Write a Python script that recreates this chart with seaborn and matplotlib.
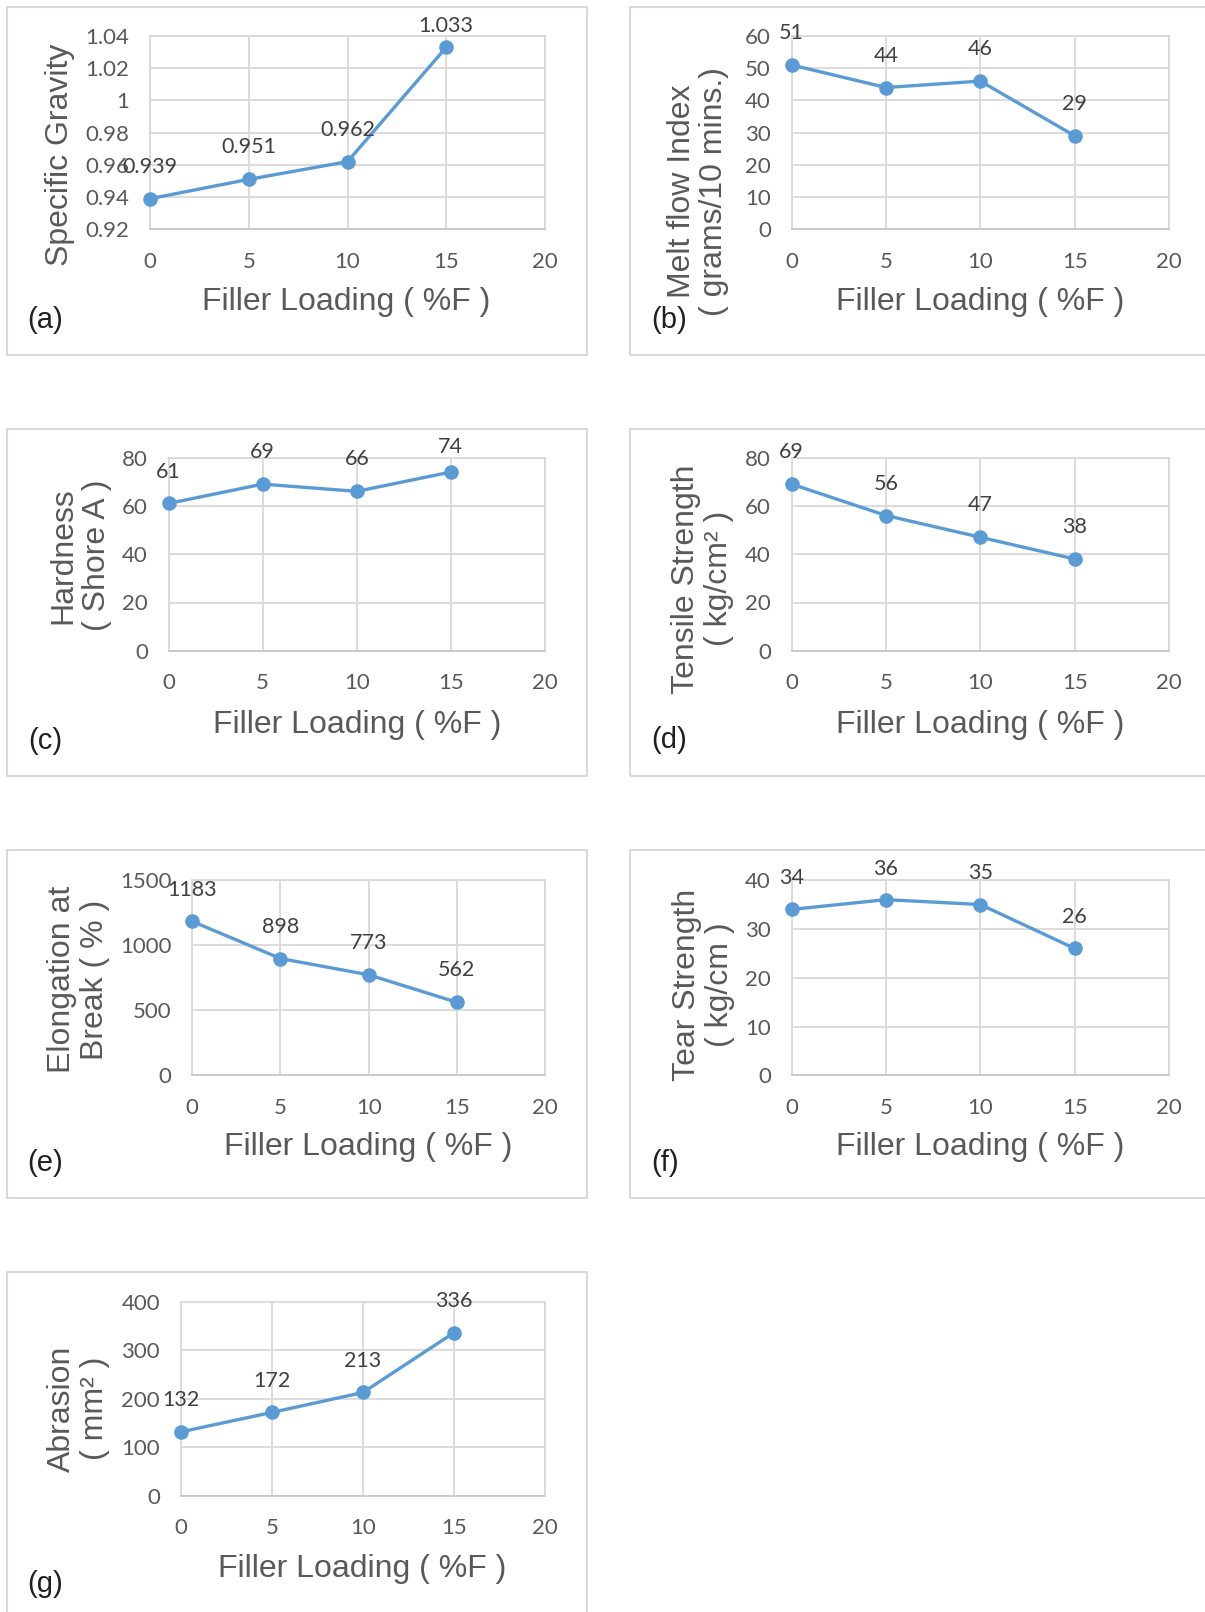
import seaborn as sns
import matplotlib.pyplot as plt
from matplotlib.patches import Rectangle
from matplotlib.ticker import FuncFormatter

# data
filler = [0, 5, 10, 15]
x_ticks = [0, 5, 10, 15, 20]

specific_gravity = [0.939, 0.951, 0.962, 1.033]
melt_flow = [51, 44, 46, 29]
hardness = [61, 69, 66, 74]
tensile = [69, 56, 47, 38]
elongation = [1183, 898, 773, 562]
tear = [34, 36, 35, 26]
abrasion = [132, 172, 213, 336]

sg_ticks = [0.92, 0.94, 0.96, 0.98, 1.0, 1.02, 1.04]
mfi_ticks = [0, 10, 20, 30, 40, 50, 60]
hard_ticks = [0, 20, 40, 60, 80]
tensile_ticks = [0, 20, 40, 60, 80]
elong_ticks = [0, 500, 1000, 1500]
tear_ticks = [0, 10, 20, 30, 40]
abr_ticks = [0, 100, 200, 300, 400]

xlabel = 'Filler Loading ( %F )'

sns.set_style('white')
plt.rcParams['font.family'] = ['Liberation Sans', 'DejaVu Sans']

W, H = 1205, 1612
K = W / 1172  # positions below were measured on the shrunk reference

fig = plt.figure(figsize=(W / 100, H / 100), dpi=100)


def fx(x):
    return x * K / W


def fy(y):
    return 1 - y * K / H


BLUE = '#5B9BD5'
GRID = '#d9d9d9'
TICK = '#595959'
NUMFONT = ['Lato', 'DejaVu Sans']

# tag, values, yticks, ylabel, frame box, plot area (l, r, top, bottom), ylabel xy, xlabel xy, tag xy
panels = [
    ('(a)', specific_gravity, sg_ticks, 'Specific Gravity',
     (7, 7, 571, 345), (146, 530, 35, 223), (58, 151), (337, 294), (44, 311)),
    ('(b)', melt_flow, mfi_ticks, 'Melt flow Index\n( grams/10 mins.)',
     (613, 7, 1190, 345), (770, 1137, 35, 223), (679, 186), (953, 294), (651, 311)),
    ('(c)', hardness, hard_ticks, 'Hardness\n( Shore A )',
     (7, 417, 571, 755), (164, 530, 445, 633), (78, 540), (347, 705), (44, 721)),
    ('(d)', tensile, tensile_ticks, 'Tensile Strength\n( kg/cm\u00b2 )',
     (613, 417, 1190, 755), (770, 1137, 445, 633), (683, 563), (953, 705), (651, 720)),
    ('(e)', elongation, elong_ticks, 'Elongation at\nBreak ( % )',
     (7, 827, 571, 1165), (187, 530, 856, 1046), (76, 953), (358, 1116), (44, 1131)),
    ('(f)', tear, tear_ticks, 'Tear Strength\n( kg/cm )',
     (613, 827, 1190, 1165), (770, 1137, 856, 1046), (684, 958), (953, 1116), (647, 1131)),
    ('(g)', abrasion, abr_ticks, 'Abrasion\n( mm\u00b2 )',
     (7, 1237, 571, 1600), (176, 530, 1266, 1455), (76, 1370), (352, 1526), (44, 1541)),
]

for tag, vals, yt, ylab, box, area, ylxy, xlxy, tagxy in panels:
    x0, y0, x1, y1 = box
    fig.add_artist(Rectangle((fx(x0), fy(y1)), fx(x1) - fx(x0), fy(y0) - fy(y1),
                             transform=fig.transFigure, fill=False,
                             edgecolor=GRID, lw=1.5))

    l, r, t, b = area
    ax = fig.add_axes([fx(l), fy(b), fx(r) - fx(l), fy(t) - fy(b)])
    sns.lineplot(x=filler, y=vals, ax=ax, color=BLUE, lw=2.4, marker='o',
                 markersize=10.5, markeredgewidth=0, clip_on=False, zorder=3)

    ax.set_xlim(x_ticks[0], x_ticks[-1])
    ax.set_ylim(yt[0], yt[-1])
    ax.set_xticks(x_ticks)
    ax.set_yticks(yt)
    ax.yaxis.set_major_formatter(FuncFormatter(lambda v, p: f'{v:g}'))
    ax.grid(True, color=GRID, lw=1.3)
    ax.set_axisbelow(True)
    for s in ax.spines.values():
        s.set_color(GRID)
        s.set_linewidth(1.3)
    ax.spines['bottom'].set_color('#c8c8c8')
    ax.tick_params(length=0, labelsize=16, labelcolor=TICK)
    ax.tick_params(axis='y', pad=15)
    ax.tick_params(axis='x', pad=16)
    for lab in ax.get_xticklabels() + ax.get_yticklabels():
        lab.set_family(NUMFONT)

    # data labels sit above each point, kept inside the chart frame
    for xv, yv in zip(filler, vals):
        py = t + (yt[-1] - yv) / (yt[-1] - yt[0]) * (b - t)
        off = min(31, py - (y0 + 18)) * K * 0.72
        ax.annotate(f'{yv:g}', (xv, yv), xytext=(0, off), textcoords='offset points',
                    ha='center', va='center', fontsize=15.5, family=NUMFONT,
                    color='#404040', annotation_clip=False)

    fig.text(fx(ylxy[0]), fy(ylxy[1]), ylab, rotation=90, ha='center', va='center',
             multialignment='center', fontsize=23, color=TICK, linespacing=1.12)
    fig.text(fx(xlxy[0]), fy(xlxy[1]), xlabel, ha='center', va='center',
             fontsize=23, color=TICK)
    fig.text(fx(tagxy[0]), fy(tagxy[1]), tag, ha='center', va='center',
             fontsize=21, color='#202020')

fig.savefig('out.png', dpi=100, facecolor='white')
